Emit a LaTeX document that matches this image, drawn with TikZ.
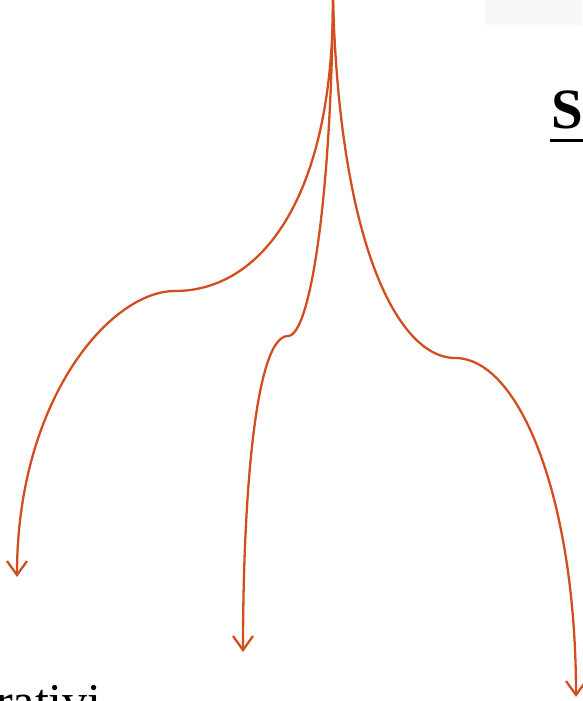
\documentclass[tikz,border=0pt]{standalone}
\usepackage{fontspec}
\setmainfont{Liberation Serif}
\usetikzlibrary{arrows.meta}
\definecolor{flow}{HTML}{D24E1E}
\definecolor{faint}{HTML}{F8F8F8}
\tikzset{
  branch/.style={draw=flow, line width=2.3pt, -{Straight Barb[length=14pt,width=20pt,line width=2.3pt]}},
  bigtext/.style={inner sep=0pt, font=\fontsize{57}{60}\selectfont\bfseries},
  lowtext/.style={inner sep=0pt, font=\fontsize{50}{54}\selectfont}
}
\begin{document}
\begin{tikzpicture}[x=1pt,y=-1pt]
\useasboundingbox (0,0) rectangle (582,701);
\fill[faint] (485,0) rectangle (582,25);
\node[bigtext, anchor=base west] (s) at (551,128) {S};
\draw[line width=3pt] (550,140) -- (584,140);
\node[lowtext, anchor=base west] (low) at (-4,718) {rativi};
\coordinate (top) at (333,0);
\coordinate (k1) at (175,291);
\coordinate (e1) at (17,577);
\coordinate (k2) at (288,336);
\coordinate (e2) at (243,652);
\coordinate (k3) at (455,358);
\coordinate (e3) at (576,697);
\draw[branch] (top) .. controls (333,200) and (260,291) .. (k1)
  .. controls (110,291) and (17,400) .. (e1);
\draw[branch] (top) .. controls (331,200) and (310,336) .. (k2)
  .. controls (255,336) and (243,500) .. (e2);
\draw[branch] (top) .. controls (340,250) and (400,358) .. (k3)
  .. controls (520,358) and (576,500) .. (e3);
\end{tikzpicture}
\end{document}
